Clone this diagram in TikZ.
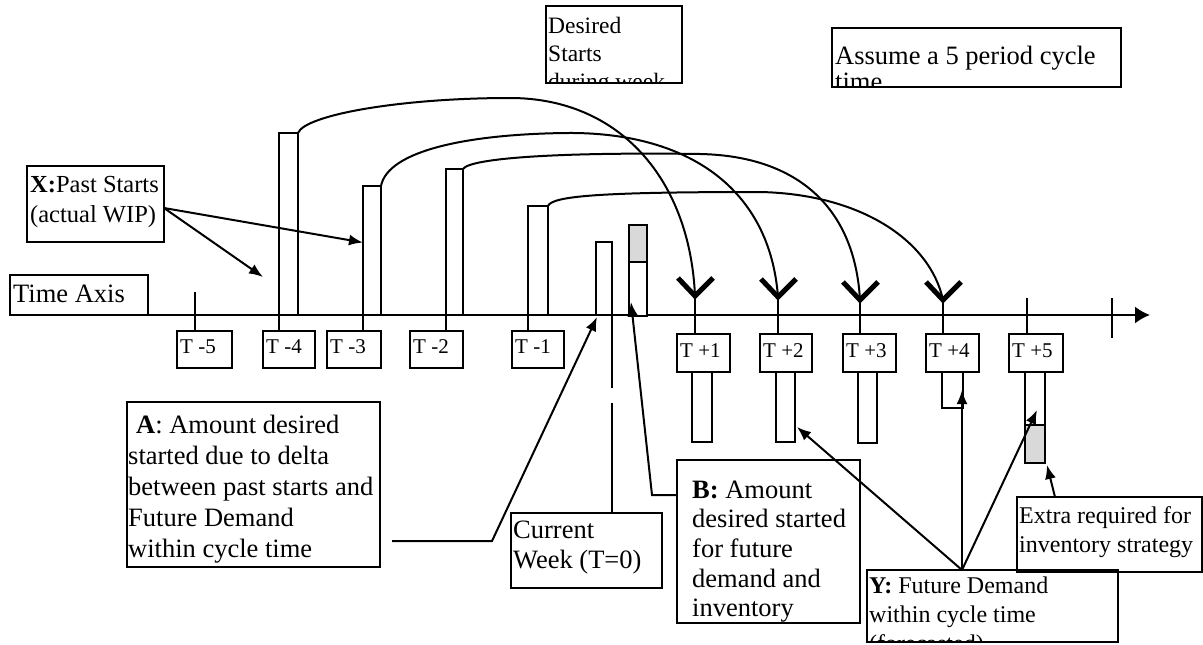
\documentclass[tikz,border=0pt]{standalone}
\usepackage{fontspec}
\setmainfont{Liberation Serif}
\usetikzlibrary{arrows.meta,fit,calc}
\newcommand\fsBig{\fontsize{26.5}{31}\selectfont}
\newcommand\fsBsk{\fontsize{26.5}{29.7}\selectfont}
\newcommand\fsCw{\fontsize{26.5}{30}\selectfont}
\newcommand\fsAs{\fontsize{26.5}{25}\selectfont}
\newcommand\fsX{\fontsize{24.5}{30.5}\selectfont}
\newcommand\fsDs{\fontsize{23.5}{28}\selectfont}
\newcommand\fsSm{\fontsize{24}{29}\selectfont}
\newcommand\fsT{\fontsize{21}{25}\selectfont}
\begin{document}
\begin{tikzpicture}[x=1pt,y=-1pt,
  box/.style={draw, line width=2.8pt, inner sep=0pt, outer sep=0pt},
  bar/.style={draw, line width=2.8pt, fill=white, inner sep=0pt, outer sep=0pt},
  gbar/.style={draw, line width=2.8pt, fill=gray!30, inner sep=0pt, outer sep=0pt},
  txt/.style={anchor=north west, inner sep=0pt, align=left},
  tlab/.style={anchor=base west, inner sep=0pt, font=\fsT},
  conn/.style={line width=2pt},
  arr/.style={conn, -{Latex[length=14pt,width=11pt]}},
  vee/.style={line width=5pt},
  tick/.style={line width=2.8pt}]
\useasboundingbox (0,0) rectangle (1203,645);

% ---------- time axis ----------
\node[box, fit={(10,275) (148,315)}] (axbox) {};
\node[anchor=base west, inner sep=0pt, font=\fsBig] (axtxt) at (13,302) {Time Axis};
\coordinate (axend) at (1150,315);
\draw[line width=2pt, -{Latex[length=15pt,width=17pt]}] (axbox.south east) -- (axend);
\coordinate (endtick) at (1112,298);
\draw[tick] (endtick) -- ++(0,40);

% ---------- period boxes ----------
\node[box, fit={(177,331) (232,368)}] (tm5) {};
\node[box, fit={(263,331) (315,368)}] (tm4) {};
\node[box, fit={(327,331) (381,368)}] (tm3) {};
\node[box, fit={(410,331) (463,368)}] (tm2) {};
\node[box, fit={(512,331) (564,368)}] (tm1) {};
\node[box, fit={(677,334) (730,372)}] (tp1) {};
\node[box, fit={(760,334) (812,372)}] (tp2) {};
\node[box, fit={(843,334) (896,372)}] (tp3) {};
\node[box, fit={(926,334) (979,372)}] (tp4) {};
\node[box, fit={(1009,334) (1063,372)}] (tp5) {};
\node[tlab] (ltm5) at (180,353) {T -5};
\node[tlab] (ltm4) at (266,353) {T -4};
\node[tlab] (ltm3) at (330,353) {T -3};
\node[tlab] (ltm2) at (413,353) {T -2};
\node[tlab] (ltm1) at (515,353) {T -1};
\node[tlab] (ltp1) at (680,357) {T +1};
\node[tlab] (ltp2) at (763,357) {T +2};
\node[tlab] (ltp3) at (846,357) {T +3};
\node[tlab] (ltp4) at (929,357) {T +4};
\node[tlab] (ltp5) at (1012,357) {T +5};

% ---------- past start bars ----------
\node[bar, fit={(279,133) (298,315)}] (bm4) {};
\node[bar, fit={(363,186) (381,315)}] (bm3) {};
\node[bar, fit={(446,169) (463,315)}] (bm2) {};
\node[bar, fit={(528,206) (548,315)}] (bm1) {};
\node[bar, fit={(596,242) (612,315)}] (cur) {};
\node[bar, fit={(629,225) (647,316)}] (gb) {};
\node[gbar, fit={(629,225) (647,262)}] (gbtop) {};

% ticks / stems down to boxes
\coordinate (k5) at (195,292);
\draw[tick] (k5) -- (k5 |- tm5.north);
\draw[tick] (bm4.south west) -- (bm4.south west |- tm4.north);
\draw[tick] (bm3.south west) -- (bm3.south west |- tm3.north);
\draw[tick] (bm2.south west) -- (bm2.south west |- tm2.north);
\draw[tick] (bm1.south west) -- (bm1.south west |- tm1.north);
\coordinate (k6) at (1027,298);
\draw[tick] (k6) -- (k6 |- tp5.north);

% ---------- future bars ----------
\node[bar, fit={(692,372) (712,442)}] (fb1) {};
\node[bar, fit={(776,372) (795,442)}] (fb2) {};
\node[bar, fit={(858,372) (877,443)}] (fb3) {};
\node[bar, fit={(942,372) (963,408)}] (fb4) {};
\node[bar, fit={(1025,372) (1045,463)}] (fb5) {};
\node[gbar, fit={(1025,425) (1045,463)}] (fb5g) {};

% ---------- Y-shaped arrival marks ----------
\coordinate (v1) at (695,296);
\coordinate (v2) at (778,297);
\coordinate (v3) at (860,300);
\coordinate (v4) at (943,300);
\foreach \v/\b in {v1/tp1, v2/tp2, v3/tp3, v4/tp4}{
  \draw[tick] (\v) -- (\v |- \b.north);
  \draw[vee] ($(\v)+(-17,-18)$) -- (\v) -- ($(\v)+(18,-18)$);
}

% ---------- curves ----------
\draw[conn] (bm4.north east) .. controls (305,115) and (400,98) .. (510,98)
  .. controls (620,98) and (690,180) .. (v1);
\draw[conn] (bm3.north east) .. controls (388,150) and (470,134) .. (567,133)
  .. controls (690,132) and (770,190) .. (v2);
\draw[conn] (bm2.north east) .. controls (470,158) and (560,152) .. (700,154)
  .. controls (800,156) and (855,210) .. (v3);
\draw[conn] (bm1.north east) .. controls (552,196) and (600,192) .. (760,192)
  .. controls (860,194) and (930,240) .. (v4);

% ---------- X box ----------
\node[box, fit={(27,166) (164,242)}] (X) {};
\node[txt, font=\fsX] (Xt) at (30,170.6) {\strut\textbf{X:}Past Starts\\(actual WIP)};
\coordinate (xo) at (164,208);
\draw[arr] (xo) -- ($(bm3.west)+(0,-8)$);
\draw[arr] (xo) -- ($(bm4.south west)+(-16,-38)$);

% ---------- Desired starts box ----------
\node[box, fit={(546,6) (682,83)}] (DS) {};
\begin{scope}
  \clip (DS.south west) rectangle (DS.north east);
  \node[txt, font=\fsDs] (DSt) at (548,13.4) {\strut Desired\\Starts\\during week};
\end{scope}

% ---------- Assume box ----------
\node[box, fit={(832,28) (1121,87)}] (AS) {};
\begin{scope}
  \clip (AS.south west) rectangle (AS.north east);
  \node[txt, font=\fsAs] (ASt) at (835,45.5) {\strut Assume a 5 period cycle\\time};
\end{scope}

% ---------- A box ----------
\node[box, fit={(127,402) (380,567)}] (A) {};
\node[txt, font=\fsBig] (At) at (128,411.3) {\strut\hspace*{8pt}\textbf{A}: Amount desired\\started due to delta\\between past starts and\\Future Demand\\within cycle time};
\coordinate (ao) at (392,541);
\draw[arr] (ao) -- ++(100,0) -- ($(cur.south west)+(1,2)$);

% ---------- Current week ----------
\node[box, fit={(511,513) (662,588)}] (CW) {};
\node[txt, font=\fsCw] (CWt) at (513,517) {\strut Current\\Week (T=0)};
\coordinate (gap1) at (612,388);
\coordinate (gap2) at (612,403);
\draw[tick] (cur.south east) -- (gap1);
\draw[tick] (gap2) -- (gap2 |- CW.north);

% ---------- B box ----------
\node[box, fit={(677,460) (860,623)}] (B) {};
\node[txt, font=\fsBsk] (Bt) at (692,477.2) {\strut\textbf{B:} Amount\\desired started\\for future\\demand and\\inventory};
\draw[arr] ($(B.north west)+(0,35)$) -- ++(-25,0) -- ($(gb.south west)+(2,-14)$);

% ---------- Extra box ----------
\node[box, fit={(1017,497) (1202,572)}] (EX) {};
\node[txt, font=\fsSm] (EXt) at (1019,502.7) {\strut Extra required for\\inventory strategy};
\draw[arr] ($(EX.north west)+(38,0)$) -- ($(fb5g.south east)+(2,2)$);

% ---------- Y box ----------
\node[box, fit={(867,570) (1118,642)}] (Y) {};
\begin{scope}
  \clip (Y.south west) rectangle (Y.north east);
  \node[txt, font=\fsSm] (Yt) at (869,572.7) {\strut\textbf{Y:} Future Demand\\within cycle time\\(forecasted)};
\end{scope}
\coordinate (yo) at (962,570);
\draw[arr] (yo) -- ($(fb2.south east)+(2,-15)$);
\draw[arr] (yo) -- ($(fb4.south east)+(-1,-18)$);
\draw[arr] (yo) -- ($(fb5g.north)+(2,-15)$);
\end{tikzpicture}
\end{document}
